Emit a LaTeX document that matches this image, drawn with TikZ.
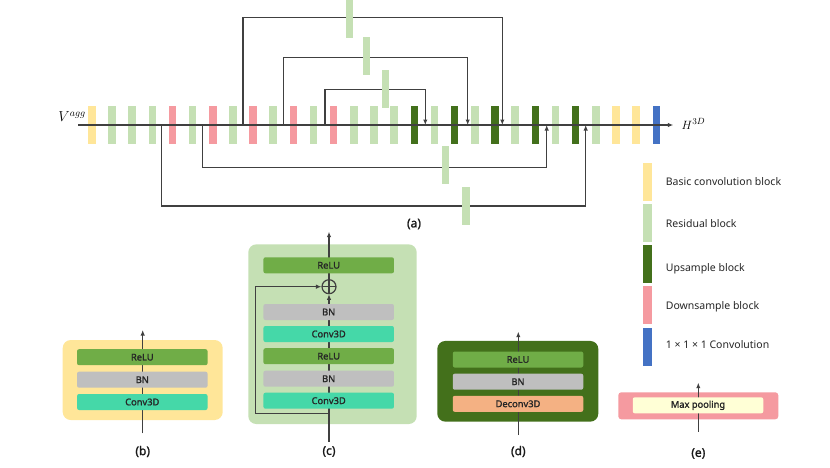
\documentclass[tikz,border=0pt]{standalone}
\usepackage{fontspec}
\usetikzlibrary{arrows.meta,calc}
\newfontfamily\lgfont{Noto Sans}
\newfontfamily\lgbf[FakeBold=1.6]{Noto Sans}
\definecolor{lc}{HTML}{404040}
\definecolor{cY}{HTML}{FFE699}
\definecolor{cG}{HTML}{C5E0B4}
\definecolor{cD}{HTML}{43701B}
\definecolor{cR}{HTML}{F59AA0}
\definecolor{cB}{HTML}{4472C4}
\definecolor{cRelu}{HTML}{70AD47}
\definecolor{cBn}{HTML}{BFBFBF}
\definecolor{cConv}{HTML}{45D8A8}
\definecolor{cDeconv}{HTML}{F4B183}
\definecolor{cMp}{HTML}{FFFFD6}
\tikzset{
  conn/.style={draw=lc, line width=1.2pt},
  arr/.style={-{Latex[length=5.5pt,width=4.5pt]}},
  blk/.style={minimum width=7.5pt, minimum height=38pt, inner sep=0pt, draw=none},
  lay/.style={minimum width=130.5pt, minimum height=16pt, inner sep=0pt, rounded corners=2pt, font=\lgbf\fontsize{9.3}{11}\selectfont, text=black!85},
  outer/.style={inner sep=0pt, rounded corners=8pt},
  captxt/.style={font=\lgbf\fontsize{12}{14}\selectfont, text=black!90},
  leg/.style={anchor=west, inner sep=0pt, font=\lgfont\fontsize{10.5}{12}\selectfont, text=black!85},
}
\begin{document}
\begin{tikzpicture}[x=1pt,y=-1pt]
\useasboundingbox (0,0) rectangle (830,467);
% ---------- (a) main chain ----------
\foreach \i/\c in {0/cY,1/cG,2/cG,3/cG,4/cR,5/cG,6/cR,7/cG,8/cR,9/cG,10/cR,11/cG,12/cR,13/cG,14/cG,15/cG,16/cD,17/cG,18/cD,19/cG,20/cD,21/cG,22/cD,23/cG,24/cD,25/cG,26/cY,27/cY,28/cB}
  \node[blk, fill=\c] (m\i) at ({91.8+20.16*\i},125) {};
\coordinate (start) at (78.3,125);
\coordinate (end) at (673.3,125);
\draw[conn,arr] (start) -- (end);
\node[anchor=south east, inner sep=0pt, font=\fontsize{14}{16}\selectfont] (vl) at (86,122) {$V^{agg}$};
\node[anchor=west, inner sep=0pt, font=\fontsize{12.5}{14}\selectfont] (hl) at (681.5,124) {$H^{3D}$};
% skip sources / targets on the main line
\coordinate (s1) at (243,125);   \coordinate (e1) at (502.3,125);
\coordinate (s2) at (283.7,125); \coordinate (e2) at (467.7,125);
\coordinate (s3) at (325,125);   \coordinate (e3) at (425.3,125);
\coordinate (s4) at (202.3,125); \coordinate (e4) at (546.7,125);
\coordinate (s5) at (161.7,125); \coordinate (e5) at (585.7,125);
\draw[conn,arr] (s1) -- ++(0,-107.3) -| (e1);
\draw[conn,arr] (s2) -- ++(0,-67.3) -| (e2);
\draw[conn,arr] (s3) -- ++(0,-35.7) -| (e3);
\draw[conn,arr] (s4) -- ++(0,42.3) -| (e4);
\draw[conn,arr] (s5) -- ++(0,81) -| (e5);
\node[blk, fill=cG] (k1) at (349.3,19) {};
\node[blk, fill=cG] (k2) at (366.7,56) {};
\node[blk, fill=cG] (k3) at (385.3,89) {};
\node[blk, fill=cG] (k4) at (445.7,164.5) {};
\node[blk, fill=cG] (k5) at (466,205.7) {};
\node[captxt] (capa) at (414,224) {(a)};
% ---------- legend ----------
\node[blk, minimum width=8.4pt, fill=cY] (l1) at (647.5,181.7) {};
\node[blk, minimum width=8.4pt, fill=cG] (l2) at (647.5,222.9) {};
\node[blk, minimum width=8.4pt, fill=cD] (l3) at (647.5,263.9) {};
\node[blk, minimum width=8.4pt, fill=cR] (l4) at (647.5,305) {};
\node[blk, minimum width=8.4pt, fill=cB] (l5) at (647.5,346.7) {};
\node[leg] (t1) at (665.7,181.7) {Basic convolution block};
\node[leg] (t2) at (665.7,223.3) {Residual block};
\node[leg] (t3) at (665.7,268.3) {Upsample block};
\node[leg] (t4) at (665.7,306.7) {Downsample block};
\node[leg] (t5) at (665.7,344.3) {1 × 1 × 1 Convolution};
% ---------- (b) ----------
\node[outer, fill=cY, minimum width=160pt, minimum height=80pt] (bO) at (142.7,380) {};
\coordinate (bin) at (142.7,433.3);
\coordinate (bout) at (142.7,330);
\draw[conn,arr] (bin) -- (bout);
\node[lay, fill=cRelu] (bR) at (142.3,357.2) {ReLU};
\node[lay, fill=cBn] (bB) at (142.3,379.7) {BN};
\node[lay, fill=cConv] (bC) at (142.3,402) {Conv3D};
\node[captxt] (capb) at (142.7,451.5) {(b)};
% ---------- (c) ----------
\node[outer, fill=cG, minimum width=168.4pt, minimum height=179.7pt] (cO) at (332.5,334.2) {};
\coordinate (cin) at (329,441.7);
\coordinate (cs) at (329,413.3);
\coordinate (cout) at (329,231.7);
\node[circle, draw=lc, line width=1.2pt, minimum size=14pt, inner sep=0pt, fill=cG,
  path picture={\draw[lc,line width=1.2pt] (path picture bounding box.north) -- (path picture bounding box.south) (path picture bounding box.west) -- (path picture bounding box.east);}] (cplus) at (329,286.7) {};
\draw[conn,arr] (cin) -- (cplus.south);
\draw[conn,arr] (cplus.north) -- (cout);
\draw[conn,arr] (cs) -- ++(-73.3,0) |- (cplus.west);
\node[lay, fill=cRelu] (cR1) at (328.7,265.3) {ReLU};
\node[lay, fill=cBn] (cB1) at (328.7,312) {BN};
\node[lay, fill=cConv] (cC1) at (328.7,334) {Conv3D};
\node[lay, fill=cRelu] (cR2) at (328.7,356.2) {ReLU};
\node[lay, fill=cBn] (cB2) at (328.7,378.7) {BN};
\node[lay, fill=cConv] (cC2) at (328.7,400.7) {Conv3D};
\node[captxt] (capc) at (329,451.5) {(c)};
% ---------- (d) ----------
\node[outer, fill=cD, minimum width=161pt, minimum height=80.7pt] (dO) at (517.8,381.3) {};
\coordinate (din) at (518.3,435);
\coordinate (dout) at (518.3,331.7);
\draw[conn,arr] (din) -- (dout);
\node[lay, fill=cRelu] (dR) at (518,359.5) {ReLU};
\node[lay, fill=cBn] (dB) at (518,381.7) {BN};
\node[lay, fill=cDeconv] (dC) at (518,403.8) {Deconv3D};
\node[captxt] (capd) at (518.3,451.5) {(d)};
% ---------- (e) ----------
\node[inner sep=0pt, rounded corners=3pt, fill=cR, minimum width=160pt, minimum height=27pt] (eO) at (698.3,405.8) {};
\coordinate (ein) at (698.3,431.7);
\coordinate (eout) at (698.3,382.7);
\draw[conn,arr] (ein) -- (eout);
\node[lay, fill=cMp] (eM) at (698,405.3) {Max pooling};
\node[captxt] (cape) at (698.3,453.5) {(e)};
\end{tikzpicture}
\end{document}
